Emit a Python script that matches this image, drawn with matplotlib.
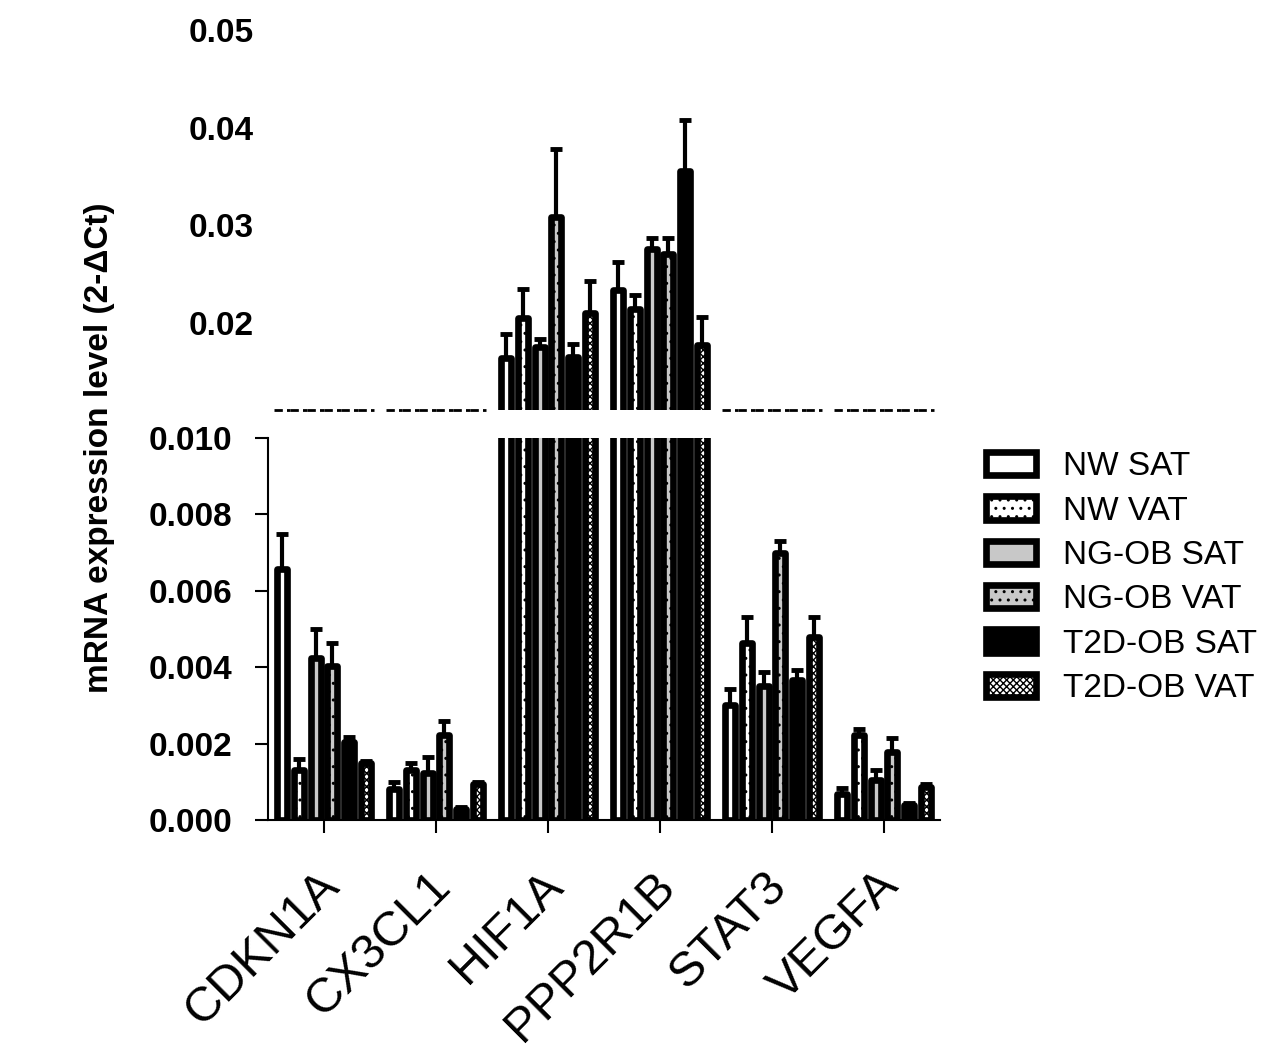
import numpy as np
import matplotlib
matplotlib.use("Agg")
import matplotlib.pyplot as plt
from matplotlib.transforms import ScaledTranslation

plt.rcParams['font.family'] = ['Liberation Sans', 'DejaVu Sans']
plt.rcParams['hatch.linewidth'] = 1.0

genes = ['CDKN1A', 'CX3CL1', 'HIF1A', 'PPP2R1B', 'STAT3', 'VEGFA']
groups = ['NW SAT', 'NW VAT', 'NG-OB SAT', 'NG-OB VAT', 'T2D-OB SAT', 'T2D-OB VAT']

# mean values per group (rows) for each gene (columns)
nw_sat = [0.00657, 0.00080, 0.01639, 0.02338, 0.00301, 0.00068]
nw_vat = [0.00131, 0.00131, 0.02048, 0.02140, 0.00464, 0.00223]
ngob_sat = [0.00423, 0.00122, 0.01757, 0.02754, 0.00351, 0.00106]
ngob_vat = [0.00403, 0.00223, 0.03088, 0.02706, 0.00698, 0.00179]
t2d_sat = [0.00205, 0.00030, 0.01649, 0.03556, 0.00366, 0.00040]
t2d_vat = [0.00148, 0.00094, 0.02100, 0.01775, 0.00480, 0.00087]

# upper error (SEM)
nw_sat_err = [0.00092, 0.00020, 0.00250, 0.00290, 0.00042, 0.00015]
nw_vat_err = [0.00028, 0.00017, 0.00300, 0.00150, 0.00068, 0.00014]
ngob_sat_err = [0.00076, 0.00042, 0.00076, 0.00120, 0.00037, 0.00025]
ngob_vat_err = [0.00060, 0.00036, 0.00690, 0.00160, 0.00033, 0.00035]
t2d_sat_err = [0.00012, 0.00004, 0.00140, 0.00520, 0.00027, 0.00005]
t2d_vat_err = [0.00006, 0.00005, 0.00330, 0.00290, 0.00052, 0.00006]

values = [nw_sat, nw_vat, ngob_sat, ngob_vat, t2d_sat, t2d_vat]
errors = [nw_sat_err, nw_vat_err, ngob_sat_err, ngob_vat_err, t2d_sat_err, t2d_vat_err]

faces = ['white', 'white', '#c8c8c8', '#c8c8c8', 'black', 'white']
hatches = [None, '..', None, '..', None, 'xxxxx']

fig = plt.figure(figsize=(12.82, 10.55), dpi=100)
W, H = 1282, 1055
ax_lo = fig.add_axes([268 / W, 1 - 820 / H, 672 / W, 382 / H])
ax_hi = fig.add_axes([268 / W, 1 - 410 / H, 672 / W, 385 / H])

lo_lim = (0, 0.010)
hi_lim = (0.0111, 0.0505)

x = np.arange(len(genes))
step = 0.15
bw = 0.09
lw = 4.8

handles = []
for k, (vals, errs) in enumerate(zip(values, errors)):
    xpos = x + (k - 2.5) * step
    for ax in (ax_lo, ax_hi):
        b = ax.bar(xpos, vals, width=bw, color=faces[k], edgecolor='black',
                   linewidth=lw, hatch=hatches[k], label=groups[k])
        for p in b:
            p.set_joinstyle('round')
        ax.errorbar(xpos, vals, yerr=[np.zeros(len(vals)), errs], fmt='none',
                    ecolor='black', elinewidth=3, capsize=4, capthick=3.5)
        if ax is ax_lo:
            handles.append(b)
    # dashed break marks for bars that stay below the upper segment
    for xi, v in zip(xpos, vals):
        if v < hi_lim[0]:
            ax_hi.plot([xi - step / 2, xi + step / 2], [hi_lim[0], hi_lim[0]],
                       color='black', lw=2, ls=(0, (3, 1.5)), clip_on=False)

ax_lo.set_xlim(-0.5, 5.5)
ax_hi.set_xlim(-0.5, 5.5)
ax_lo.set_ylim(*lo_lim)
ax_hi.set_ylim(*hi_lim)

# lower axis styling
for s in ['top', 'right']:
    ax_lo.spines[s].set_visible(False)
for s in ['left', 'bottom']:
    ax_lo.spines[s].set_linewidth(1.5)
ax_lo.set_yticks([0, 0.002, 0.004, 0.006, 0.008, 0.010])
ax_lo.set_yticklabels(['0.000', '0.002', '0.004', '0.006', '0.008', '0.010'])
ax_lo.tick_params(axis='y', direction='out', length=9.5, width=1.5, pad=16,
                  labelsize=24)
ax_lo.tick_params(axis='x', direction='out', length=9, width=1.5)
for t in ax_lo.get_yticklabels():
    t.set_fontweight('bold')
ax_lo.set_xticks(x)
ax_lo.set_xticklabels([])
offset = ScaledTranslation(-8 / 100, -43 / 100, fig.dpi_scale_trans)
for xi, g in zip(x, genes):
    ax_lo.text(xi, 0, g, transform=ax_lo.get_xaxis_transform() + offset,
               rotation=45, ha='right', va='top', rotation_mode='anchor',
               fontsize=35)

# upper axis styling
for s in ax_hi.spines.values():
    s.set_visible(False)
ax_hi.set_xticks([])
ax_hi.set_yticks([0.02, 0.03, 0.04, 0.05])
ax_hi.set_yticklabels(['0.02', '0.03', '0.04', '0.05'])
ax_hi.tick_params(axis='y', length=0, pad=10, labelsize=24)
for t in ax_hi.get_yticklabels():
    t.set_fontweight('bold')

fig.text(100 / W, 1 - 448 / H, 'mRNA expression level (2-\u0394Ct)',
         rotation=90, ha='center', va='center', fontsize=24, fontweight='bold')

fig.legend(handles, groups, loc='upper left',
           bbox_to_anchor=(973 / W, 1 - 438 / H), frameon=False,
           fontsize=24, handlelength=1.5, handleheight=0.7,
           handletextpad=0.8, labelspacing=0.4, borderaxespad=0)

fig.savefig('out.png', dpi=100)
